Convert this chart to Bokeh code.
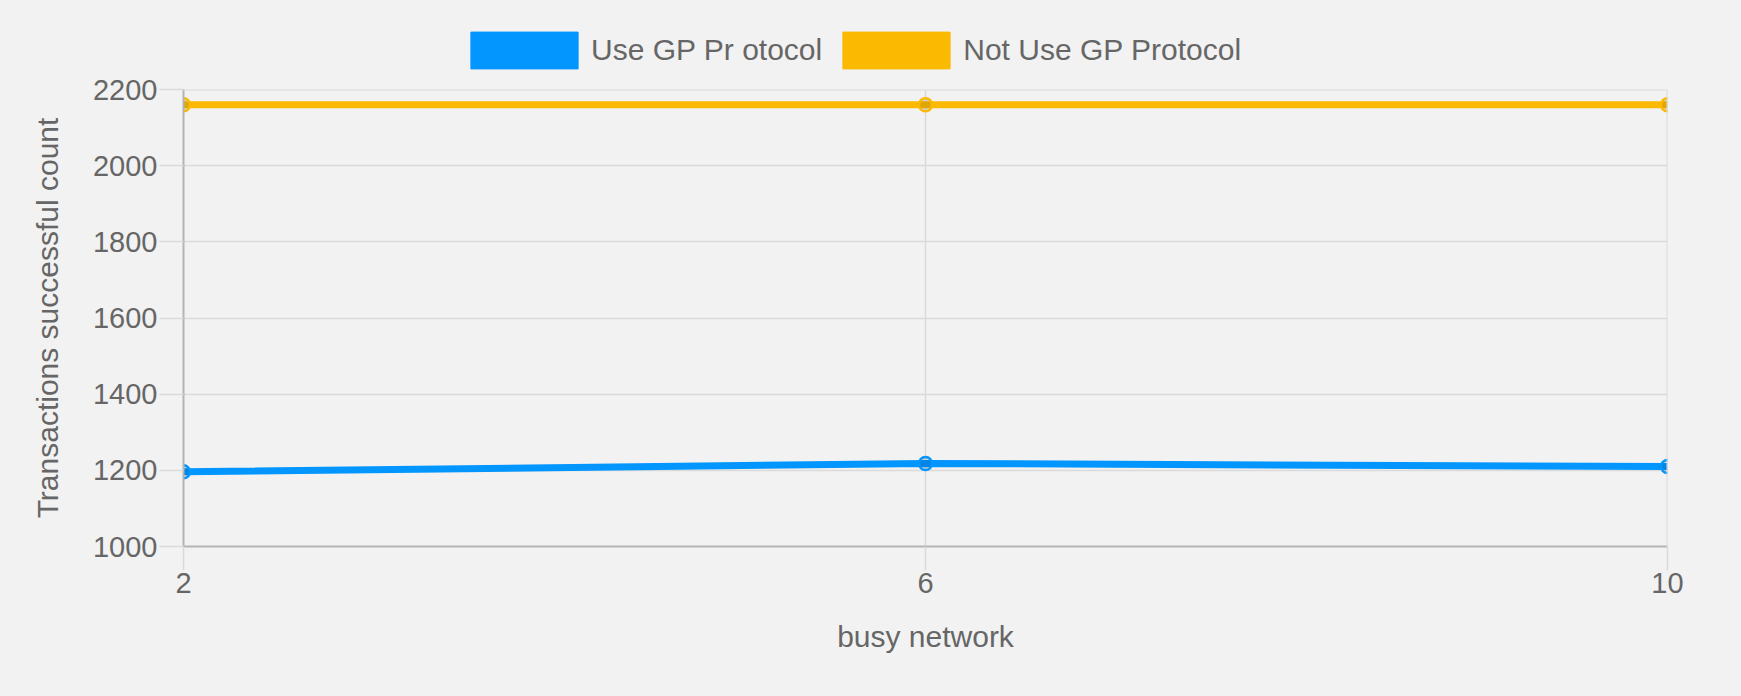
from bokeh.plotting import figure
from bokeh.layouts import column
from bokeh.models import (ColumnDataSource, Range1d, FixedTicker, SingleIntervalTicker,
                          Legend, LegendItem, Span)
from bokeh.embed import file_html
from bokeh.resources import INLINE

# ---- data ----
busy_network = [2, 6, 10]
use_gp = [1196, 1218, 1210]
not_use_gp = [2160, 2160, 2160]
series_labels = ["Use GP Pr otocol", "Not Use GP Protocol"]
x_ticks = [2, 6, 10]
y_min, y_max, y_step = 1000, 2200, 200

BLUE = "#0396ff"
ORANGE = "#fbb901"
BG = "#f2f2f2"
GRID = "#dadada"
AXIS = "#b4b4b4"
TEXT = "#666666"
FONT = "Liberation Sans"

src = ColumnDataSource(dict(x=busy_network, a=use_gp, b=not_use_gp))

# ---- legend strip (top) ----
lg = figure(width=1741, height=74, output_backend="svg", toolbar_location=None,
            x_range=Range1d(20, 21), y_range=Range1d(3000, 3001),
            min_border=0, min_border_left=0, min_border_right=0,
            min_border_top=0, min_border_bottom=0)
lg.axis.visible = False
lg.grid.visible = False
lg.background_fill_color = BG
lg.border_fill_color = BG
lg.outline_line_color = None

# legend proxies: the series as bars, lying wholly outside this strip's view
ra = lg.vbar(x="x", top="a", width=0.1, source=src, fill_color=BLUE, line_color=BLUE)
rb = lg.vbar(x="x", top="b", width=0.1, source=src, fill_color=ORANGE, line_color=ORANGE)

legend = Legend(items=[LegendItem(label=series_labels[0], renderers=[ra]),
                       LegendItem(label=series_labels[1], renderers=[rb])],
                orientation="horizontal", location=(274, 1),
                glyph_width=134, glyph_height=46, label_standoff=0, spacing=7,
                padding=0, margin=0, border_line_color=None, background_fill_alpha=0,
                label_text_font=FONT, label_text_font_size="30px", label_text_color=TEXT)
lg.add_layout(legend, "center")

# ---- main chart ----
p = figure(width=1741, height=622, output_backend="svg", toolbar_location=None,
           x_range=Range1d(x_ticks[0], x_ticks[-1]), y_range=Range1d(y_min, y_max),
           min_border_left=183, min_border_right=74, min_border_top=15, min_border_bottom=150)
p.background_fill_color = BG
p.border_fill_color = BG
p.outline_line_color = None

p.xaxis.ticker = FixedTicker(ticks=x_ticks)
p.yaxis.ticker = SingleIntervalTicker(interval=y_step)

for ax in (p.xaxis[0], p.yaxis[0]):
    ax.axis_line_color = AXIS
    ax.axis_line_width = 2
    ax.major_tick_line_color = GRID
    ax.major_tick_line_width = 1.5
    ax.major_tick_out = 24
    ax.major_tick_in = 0
    ax.minor_tick_line_color = None
    ax.major_label_text_color = TEXT
    ax.major_label_text_font = FONT
    ax.major_label_text_font_size = "29px"
    ax.axis_label_text_color = TEXT
    ax.axis_label_text_font = FONT
    ax.axis_label_text_font_size = "30px"
    ax.axis_label_text_font_style = "normal"

p.xaxis.axis_label = "busy network"
p.yaxis.axis_label = "Transactions successful count"
p.xaxis.major_label_standoff = 2
p.yaxis.major_label_standoff = 2
p.xaxis.axis_label_standoff = 24
p.yaxis.axis_label_standoff = 26

p.xgrid.grid_line_color = GRID
p.ygrid.grid_line_color = GRID
p.xgrid.grid_line_width = 1.5
p.ygrid.grid_line_width = 1.5

# edge grid lines (last x tick / top y tick) that the frame would half-clip
p.add_layout(Span(location=x_ticks[-1], dimension="height", line_color=GRID, line_width=2))
p.add_layout(Span(location=y_max, dimension="width", line_color=GRID, line_width=2))

p.line("x", "a", source=src, line_color=BLUE, line_width=7)
p.line("x", "b", source=src, line_color=ORANGE, line_width=7)
p.scatter("x", "a", source=src, size=13, line_color=BLUE, line_width=2.5,
          fill_color="black", fill_alpha=0.1)
p.scatter("x", "b", source=src, size=13, line_color=ORANGE, line_width=2.5,
          fill_color="black", fill_alpha=0.1)

layout = column(lg, p, spacing=0)
layout.styles = {"background-color": BG}

open("out.html", "w").write(file_html(layout, INLINE))
